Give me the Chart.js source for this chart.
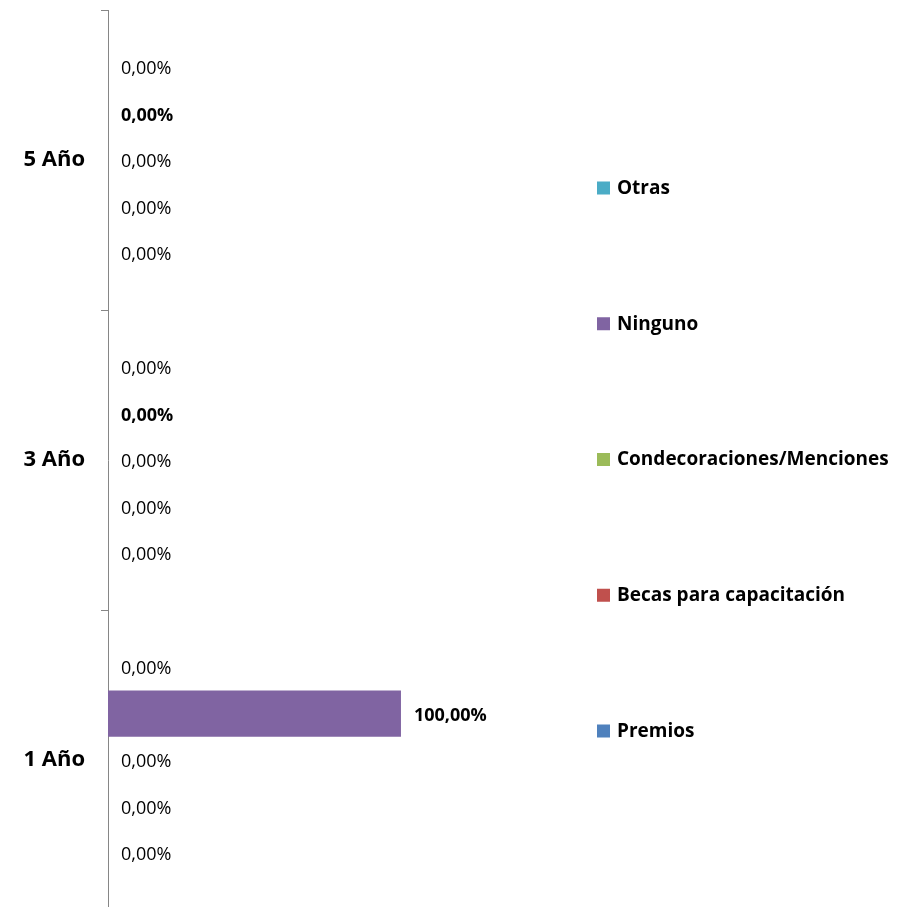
<!DOCTYPE html>
<html>
<head>
<meta charset="utf-8">
<script src="https://cdn.jsdelivr.net/npm/chart.js@4/dist/chart.umd.min.js"></script>
<style>
  html, body { margin: 0; padding: 0; background: #fff; overflow: hidden; }
  #wrap { width: 903px; height: 910px; position: relative; }
</style>
</head>
<body>
<div id="wrap"><canvas id="chart"></canvas></div>
<script>
// categories (top to bottom) and series, in the order they stack top to bottom
const categories = ['5 Año', '3 Año', '1 Año'];
const seriesNames = ['Otras', 'Ninguno', 'Condecoraciones/Menciones', 'Becas para capacitación', 'Premios'];
const seriesColors = ['#4BACC6', '#8064A2', '#9BBB59', '#C0504D', '#4F81BD'];

const otras = [0, 0, 0];
const ninguno = [0, 0, 1];
const condecoraciones = [0, 0, 0];
const becas = [0, 0, 0];
const premios = [0, 0, 0];

const seriesValues = [otras, ninguno, condecoraciones, becas, premios];
const boldSeries = 'Ninguno';

const FONT = '"Open Sans", "DejaVu Sans", sans-serif';

function pct(v){ return (v * 100).toFixed(2).replace('.', ',') + '%'; }

// draws the value next to the end of every bar
const barLabels = {
  id: 'barLabels',
  afterDatasetsDraw(chart){
    const ctx = chart.ctx;
    ctx.save();
    ctx.textBaseline = 'middle';
    ctx.textAlign = 'left';
    ctx.fillStyle = '#000';
    chart.data.datasets.forEach((ds, di) => {
      const meta = chart.getDatasetMeta(di);
      const bold = ds.label === boldSeries;
      ctx.font = (bold ? 'bold ' : '') + '18px ' + FONT;
      meta.data.forEach((bar, i) => {
        ctx.fillText(pct(ds.data[i]), bar.x + 13, bar.y + 2);
      });
    });
    ctx.restore();
  }
};

// legend on the right, items spread out like the original
const sideLegend = {
  id: 'sideLegend',
  afterDraw(chart){
    const ctx = chart.ctx;
    const area = chart.chartArea;
    const n = chart.data.datasets.length;
    const step = 135.75;
    const mid = 460;
    const x = area.right + 10;
    ctx.save();
    ctx.textBaseline = 'middle';
    ctx.textAlign = 'left';
    ctx.font = 'bold 19px ' + FONT;
    chart.data.datasets.forEach((ds, i) => {
      const y = mid + (i - (n - 1) / 2) * step;
      ctx.fillStyle = ds.backgroundColor;
      ctx.fillRect(x, y - 7, 13, 13);
      ctx.fillStyle = '#000';
      ctx.fillText(ds.label, x + 20, y);
    });
    ctx.restore();
  }
};

const datasets = seriesNames.map((name, i) => ({
  label: name,
  data: seriesValues[i],
  backgroundColor: seriesColors[i],
  borderWidth: 0,
  categoryPercentage: 0.773,
  barPercentage: 1
}));

new Chart(document.getElementById('chart').getContext('2d'), {
  type: 'bar',
  data: { labels: categories, datasets },
  plugins: [barLabels, sideLegend],
  options: {
    indexAxis: 'y',
    responsive: true,
    maintainAspectRatio: false,
    animation: false,
    layout: { padding: { top: 10, bottom: 0, left: 0, right: 316 } },
    plugins: {
      tooltip: { enabled: false },
      legend: { display: false }
    },
    scales: {
      x: {
        display: false,
        min: 0,
        max: 1.635
      },
      y: {
        afterFit(scale){
          scale.width = 108;
          scale.paddingTop = 0;
          scale.paddingBottom = 0;
        },
        grid: {
          offset: true,
          drawOnChartArea: false,
          tickLength: 7,
          color: '#868686'
        },
        border: { display: true, color: '#868686', width: 1 },
        ticks: {
          padding: 16,
          color: '#000',
          font: { family: FONT, size: 22, weight: 'bold' }
        }
      }
    }
  }
});
</script>
</body>
</html>
